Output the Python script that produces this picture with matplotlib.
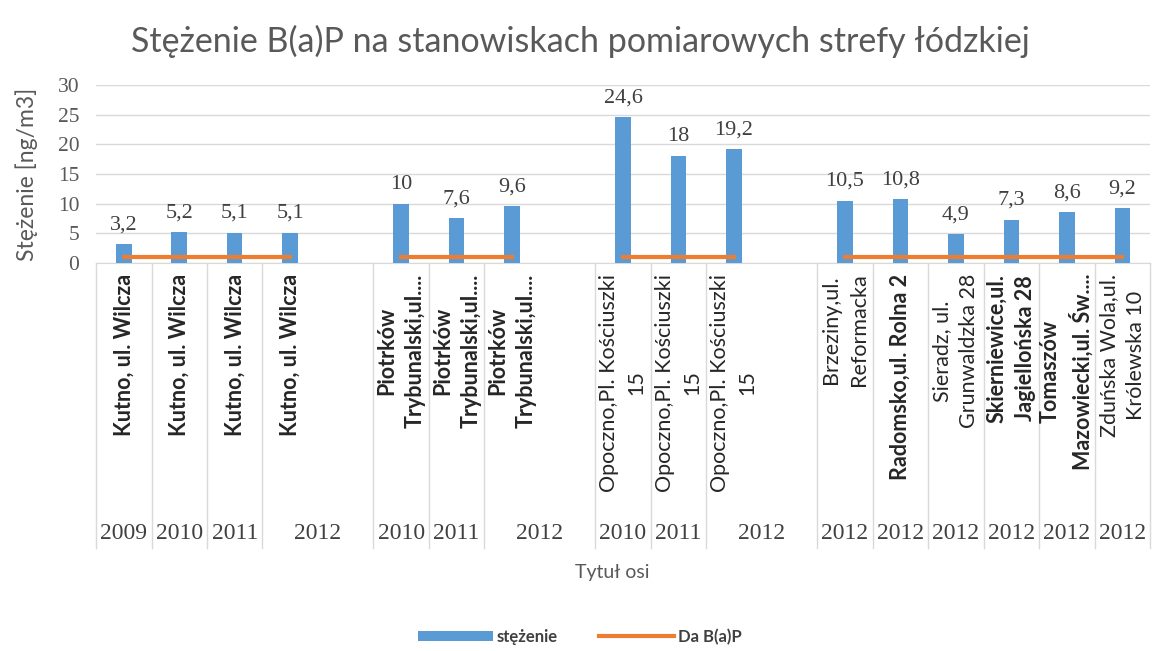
import numpy as np
import matplotlib.pyplot as plt
from matplotlib.transforms import blended_transform_factory

# --- dane ---------------------------------------------------------------
stacje = [
    "Kutno, ul. Wilcza", "Kutno, ul. Wilcza", "Kutno, ul. Wilcza", "Kutno, ul. Wilcza", "",
    "Piotrków\nTrybunalski,ul....", "Piotrków\nTrybunalski,ul....", "Piotrków\nTrybunalski,ul....", "",
    "Opoczno,Pl. Kościuszki\n15", "Opoczno,Pl. Kościuszki\n15", "Opoczno,Pl. Kościuszki\n15", "",
    "Brzeziny,ul.\nReformacka", "Radomsko,ul. Rolna 2", "Sieradz, ul.\nGrunwaldzka 28",
    "Skierniewice,ul.\nJagiellońska 28", "Tomaszów\nMazowiecki,ul. Św....", "Zduńska Wola,ul.\nKrólewska 10",
]
stezenie = [3.2, 5.2, 5.1, 5.1, np.nan,
            10, 7.6, 9.6, np.nan,
            24.6, 18, 19.2, np.nan,
            10.5, 10.8, 4.9, 7.3, 8.6, 9.2]
da_bap = [1, 1, 1, 1, np.nan,
          1, 1, 1, np.nan,
          1, 1, 1, np.nan,
          1, 1, 1, 1, 1, 1]
# rok: (etykieta, pierwszy slot, liczba slotow)
lata = [("2009", 0, 1), ("2010", 1, 1), ("2011", 2, 1), ("2012", 3, 2),
        ("2010", 5, 1), ("2011", 6, 1), ("2012", 7, 2),
        ("2010", 9, 1), ("2011", 10, 1), ("2012", 11, 2),
        ("2012", 13, 1), ("2012", 14, 1), ("2012", 15, 1),
        ("2012", 16, 1), ("2012", 17, 1), ("2012", 18, 1)]
bold_stacje = {"Kutno, ul. Wilcza", "Piotrków\nTrybunalski,ul....", "Radomsko,ul. Rolna 2",
               "Tomaszów\nMazowiecki,ul. Św....", "Skierniewice,ul.\nJagiellońska 28"}

sans = ["Lato", "DejaVu Sans"]
serif = ["Liberation Serif", "DejaVu Serif"]
szary = "#595959"

fig = plt.figure(figsize=(11.53, 6.51), dpi=100)
ax = fig.add_axes([0.0833, 0.596, 0.9141, 0.2734])

x = np.arange(len(stezenie))
bars = ax.bar(x, stezenie, width=0.28, color="#5B9BD5", label="stężenie", zorder=3)
line, = ax.plot(x, da_bap, color="#ED7D31", lw=3, label="Da B(a)P", zorder=4)

for xi, v in zip(x, stezenie):
    if not np.isnan(v):
        ax.annotate(f"{v:g}".replace(".", ","), (xi, v), xytext=(0, 7), textcoords="offset points",
                    ha="center", va="bottom", fontsize=16, family=serif, color="#404040")

ax.set_xlim(-0.5, len(stezenie) - 0.5)
ax.set_ylim(0, 30)
ax.set_yticks(range(0, 31, 5))
ax.tick_params(axis="y", length=0, labelsize=15.5, labelcolor=szary, pad=12)
for lab in ax.get_yticklabels():
    lab.set_family(serif)
ax.set_xticks([])
ax.grid(axis="y", color="#D9D9D9", lw=1, zorder=0)
for s in ["top", "right", "left"]:
    ax.spines[s].set_visible(False)
ax.spines["bottom"].set_color("#D9D9D9")

tr = blended_transform_factory(ax.transData, ax.transAxes)
# kreski oddzielajace komorki osi kategorii
granice = sorted({start for _, start, _ in lata} | {len(stezenie)})
for g in granice:
    ax.plot([g - 0.5, g - 0.5], [0, -1.6], transform=tr, color="#D9D9D9", lw=1, clip_on=False)
for xi, name in enumerate(stacje):
    if name:
        ax.text(xi, -0.06, name, transform=tr, rotation=90, ha="center", va="top",
                multialignment="center", linespacing=1.45, fontsize=15.5, family=sans,
                color="#262626", fontweight="bold" if name in bold_stacje else "normal")
for rok, start, n in lata:
    ax.text(start if n == 1 else start + 0.5, -1.52, rok, transform=tr,
            ha="center", va="center", fontsize=17, family=serif, color="#404040")

ax.set_ylabel("Stężenie [ng/m3]", fontsize=16.5, family=sans, color=szary, labelpad=14)
fig.text(0.531, 0.121, "Tytuł osi", ha="center", va="center", fontsize=14, family=sans, color=szary)
fig.suptitle("Stężenie B(a)P na stanowiskach pomiarowych strefy łódzkiej", x=0.503, y=0.962,
             fontsize=24.5, family=sans, color=szary)

fig.legend([bars, line], ["stężenie", "Da B(a)P"], loc="center", bbox_to_anchor=(0.503, 0.022),
           ncol=2, frameon=False, prop={"family": sans, "size": 12, "weight": "bold"},
           handlelength=4.5, handleheight=0.5, handletextpad=0.2, columnspacing=2.5,
           labelcolor="#404040")

fig.savefig("out.png", dpi=100)
